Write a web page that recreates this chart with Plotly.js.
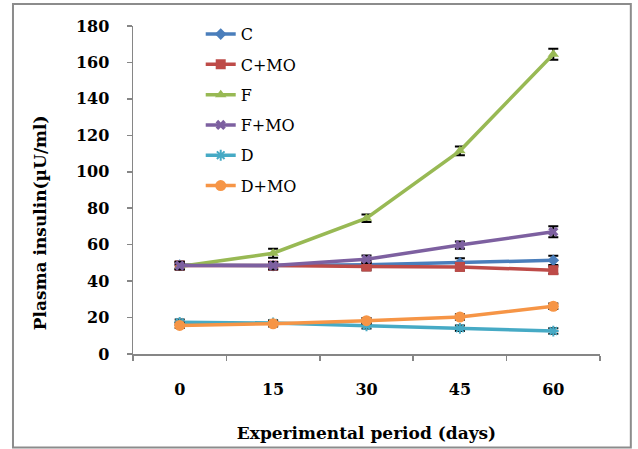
<!DOCTYPE html>
<html>
<head>
<meta charset="utf-8">
<script src="https://cdn.plot.ly/plotly-3.0.1.min.js"></script>
<style>html,body{margin:0;padding:0;background:#fff;}#chart{width:638px;height:449px;}</style>
</head>
<body>
<div id="chart"></div>
<script>
// Data
var days = ["0", "15", "30", "45", "60"];
var seriesNames = ["C", "C+MO", "F", "F+MO", "D", "D+MO"];
var valC    = [48.8, 48.5, 49.0, 50.0, 51.4];
var valCMO  = [48.5, 48.5, 48.0, 47.8, 46.0];
var valF    = [48.0, 55.3, 74.5, 111.5, 164.5];
var valFMO  = [48.5, 48.5, 52.0, 59.8, 67.1];
var valD    = [17.4, 17.0, 15.5, 14.1, 12.6];
var valDMO  = [15.7, 16.6, 18.3, 20.3, 26.2];
var errC    = [2.0, 2.0, 2.0, 2.5, 2.5];
var errCMO  = [2.0, 2.0, 2.0, 2.0, 2.0];
var errF    = [1.5, 2.5, 2.0, 2.4, 3.0];
var errFMO  = [2.0, 2.0, 2.0, 2.0, 3.0];
var errD    = [1.5, 1.5, 1.5, 1.5, 1.5];
var errDMO  = [1.5, 1.5, 1.5, 1.5, 1.5];
var yTitle = "Plasma insulin(µU/ml)";
var xTitle = "Experimental period (days)";

var values = [valC, valCMO, valF, valFMO, valD, valDMO];
var errors = [errC, errCMO, errF, errFMO, errD, errDMO];
var colors = ["#4A7EBB", "#BE4B48", "#98B954", "#7D60A0", "#46AAC5", "#F69546"];
var symbols = ["diamond", "square", "triangle-up", "x", "asterisk-open", "circle"];
var sizes = [9, 10, 10, 9, 9, 11];

var traces = seriesNames.map(function (name, i) {
  var marker = {symbol: symbols[i], size: sizes[i], color: colors[i]};
  if (symbols[i] === "asterisk-open") marker.line = {color: colors[i], width: 2};
  else marker.line = {color: colors[i], width: 0};
  return {
    type: "scatter",
    mode: "lines+markers",
    name: name,
    legendgroup: name,
    x: days,
    y: values[i],
    line: {color: colors[i], width: 3.5},
    marker: marker,
    error_y: {type: "data", array: errors[i], visible: true, color: "#000", thickness: 2, width: 5}
  };
});

var axisFont = {family: "DejaVu Serif", size: 16, color: "#000", weight: "bold"};
var titleFont = {family: "DejaVu Serif", size: 17, color: "#000", weight: "bold"};
var layout = {
  width: 638, height: 449,
  margin: {l: 133, r: 38, t: 26, b: 95},
  paper_bgcolor: "#fff", plot_bgcolor: "#fff",
  showlegend: true,
  legend: {
    x: 0.145, y: 1.027, xanchor: "left", yanchor: "top",
    bgcolor: "rgba(0,0,0,0)",
    font: {family: "DejaVu Serif", size: 16, color: "#000"},
    tracegroupgap: 6.5,
    itemwidth: 30
  },
  xaxis: {
    type: "category",
    range: [-0.5, 4.5],
    showline: true, linecolor: "#868686", linewidth: 1.5,
    ticks: "outside", ticklen: 5, tickcolor: "#868686", tickwidth: 1.5,
    tickson: "boundaries",
    ticklabelstandoff: 20,
    tickfont: axisFont,
    showgrid: false, zeroline: false,
    title: {text: xTitle, font: titleFont, standoff: 29}
  },
  yaxis: {
    range: [0, 180], dtick: 20,
    showline: true, linecolor: "#868686", linewidth: 1.5,
    ticks: "outside", ticklen: 5, tickcolor: "#868686", tickwidth: 1.5,
    ticklabelstandoff: 14,
    tickfont: axisFont,
    showgrid: false, zeroline: false
  },
  annotations: [{
    text: yTitle, xref: "paper", yref: "paper",
    x: -0.199, y: 0.399, xanchor: "center", yanchor: "middle",
    textangle: -90, showarrow: false, font: titleFont
  }],
  shapes: [{
    type: "rect", xref: "paper", yref: "paper",
    x0: -0.257, x1: 1.066, y0: -0.285, y1: 1.067,
    line: {color: "#8C8C8C", width: 2}, fillcolor: "rgba(0,0,0,0)"
  }]
};

Plotly.newPlot("chart", traces, layout, {displayModeBar: false, staticPlot: true});
</script>
</body>
</html>
